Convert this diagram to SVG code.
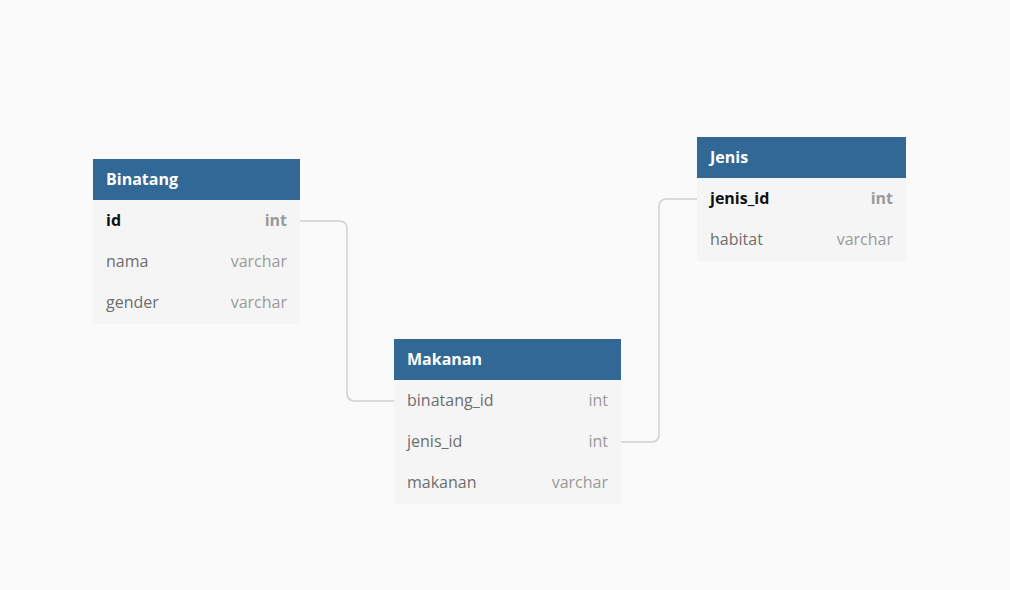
<svg xmlns="http://www.w3.org/2000/svg" width="1010" height="590" viewBox="0 0 1010 590">
<style>
.hdr{fill:#316896}
.body{fill:#f5f5f5}
.title{font-family:"Open Sans",sans-serif;font-size:16px;font-weight:bold;fill:#ffffff}
.col{font-family:"Open Sans",sans-serif;font-size:16px;fill:#6e6e6e}
.pk{font-family:"Open Sans",sans-serif;font-size:16px;font-weight:bold;fill:#111111}
.typ{font-family:"Open Sans",sans-serif;font-size:16px;fill:#9a9a9a;text-anchor:end}
.pkt{font-family:"Open Sans",sans-serif;font-size:16px;font-weight:bold;fill:#9a9a9a;text-anchor:end}
.conn{fill:none;stroke:#d0d0d0;stroke-width:1.5}
</style>
<rect width="1010" height="590" fill="#fafafa"/>
<g id="connectors">
<path class="conn" d="M300,221 H339 Q347,221 347,229 V393 Q347,401 355,401 H394"/>
<path class="conn" d="M621,442 H651 Q659,442 659,434 V207 Q659,199 667,199 H697"/>
</g>
<g id="Binatang">
<rect class="body" x="93" y="200" width="207" height="124"/>
<rect class="hdr" x="93" y="159" width="207" height="41"/>
<text class="title" x="106" y="185">Binatang</text>
<text class="pk" x="106" y="226">id</text><text class="pkt" x="287" y="226">int</text>
<text class="col" x="106" y="267">nama</text><text class="typ" x="287" y="267">varchar</text>
<text class="col" x="106" y="308">gender</text><text class="typ" x="287" y="308">varchar</text>
</g>
<g id="Makanan">
<rect class="body" x="394" y="380" width="227" height="124"/>
<rect class="hdr" x="394" y="339" width="227" height="41"/>
<text class="title" x="407" y="365">Makanan</text>
<text class="col" x="407" y="406">binatang_id</text><text class="typ" x="608" y="406">int</text>
<text class="col" x="407" y="447">jenis_id</text><text class="typ" x="608" y="447">int</text>
<text class="col" x="407" y="488">makanan</text><text class="typ" x="608" y="488">varchar</text>
</g>
<g id="Jenis">
<rect class="body" x="697" y="178" width="209" height="83"/>
<rect class="hdr" x="697" y="137" width="209" height="41"/>
<text class="title" x="710" y="163">Jenis</text>
<text class="pk" x="710" y="204">jenis_id</text><text class="pkt" x="893" y="204">int</text>
<text class="col" x="710" y="245">habitat</text><text class="typ" x="893" y="245">varchar</text>
</g>
</svg>
